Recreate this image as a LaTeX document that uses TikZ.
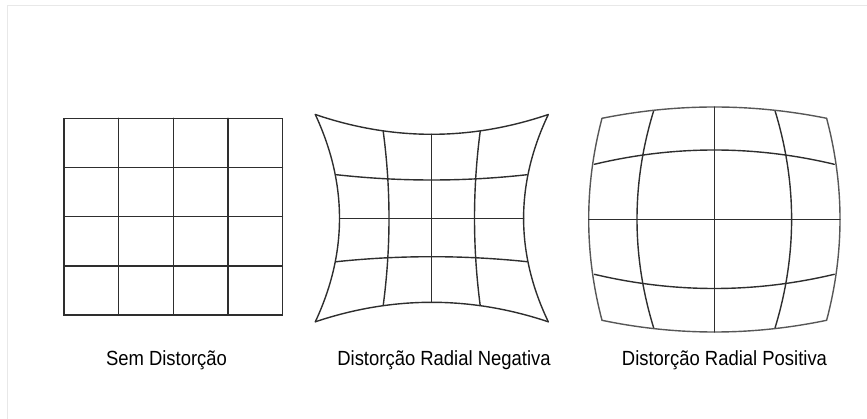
\documentclass[tikz,border=0pt]{standalone}
\usepackage{fontspec}
\setmainfont{Liberation Sans}

\begin{document}
\begin{tikzpicture}[x=1pt,y=-1pt,line cap=round,
  gridline/.style={draw=black!82,line width=1.4pt},
  rimline/.style={draw=black!66,line width=1.4pt},
  frameline/.style={draw=black!9,line width=0.9pt},
  caption/.style={anchor=base,inner sep=0pt,xscale=0.9,font=\fontsize{20.5}{24}\selectfont}]
\useasboundingbox (0,0) rectangle (867,419);
\draw[frameline] (7.3,419) |- (867,5.3);
% undistorted grid
\draw[gridline] (64,118.3) rectangle (282.4,315);
\foreach \i in {1,2,3}{
  \draw[gridline] ({64+54.6*\i},118.3) -- ({64+54.6*\i},315);
  \draw[gridline] (64,{118.3+49.2*\i}) -- (282.4,{118.3+49.2*\i});
}
% negative radial (pincushion)
\foreach \xa/\ya/\xm/\ym/\xb/\yb in {315.3/114.5/339.5/218.3/315.3/321.8, 383.2/131.3/389/218.3/383.2/305.5,
    480.2/131.3/474.5/218.3/480.2/305.5, 548.3/114.5/523.6/218.3/548.3/321.8,
    315.3/114.5/431.7/134.3/548.3/114.5, 336.3/174.7/431.7/180/527.1/174.7,
    336.3/261.7/431.7/256.7/527.1/261.7, 315.3/321.8/431.7/302.3/548.3/321.8}
  \draw[gridline] (\xa,\ya) .. controls ({(4*\xm-\xb)/3},{(4*\ym-\yb)/3}) and ({(4*\xm-\xa)/3},{(4*\ym-\ya)/3}) .. (\xb,\yb);
\draw[gridline] (431.7,134.3) -- (431.7,302.3);
\draw[gridline] (339.5,218.3) -- (523.6,218.3);
% positive radial (barrel)
\foreach \xa/\ya/\xm/\ym/\xb/\yb/\kind in {602/118.3/588.7/219.3/602/320.3/rimline, 653.7/110.7/637/219.3/653.7/328/gridline,
    775/110.7/791.6/219.3/775/328/gridline, 826.6/118.3/840/219.3/826.6/320.3/rimline,
    602/118.3/714.3/107/826.6/118.3/rimline, 594.3/164.3/714.3/150/834.3/164.3/gridline,
    594.3/274.3/714.3/288.5/834.3/274.3/gridline, 602/320.3/714.3/332/826.6/320.3/rimline}
  \draw[\kind] (\xa,\ya) .. controls ({(4*\xm-\xb)/3},{(4*\ym-\yb)/3}) and ({(4*\xm-\xa)/3},{(4*\ym-\ya)/3}) .. (\xb,\yb);
\draw[gridline] (714.3,107) -- (714.3,332);
\draw[gridline] (588.7,219.3) -- (840,219.3);
% captions
\node[caption] (plain) at (166.5,365) {Sem Distorção};
\node[caption] (pincushion) at (444,365) {Distorção Radial Negativa};
\node[caption] (barrel) at (724.5,365) {Distorção Radial Positiva};
\end{tikzpicture}
\end{document}
